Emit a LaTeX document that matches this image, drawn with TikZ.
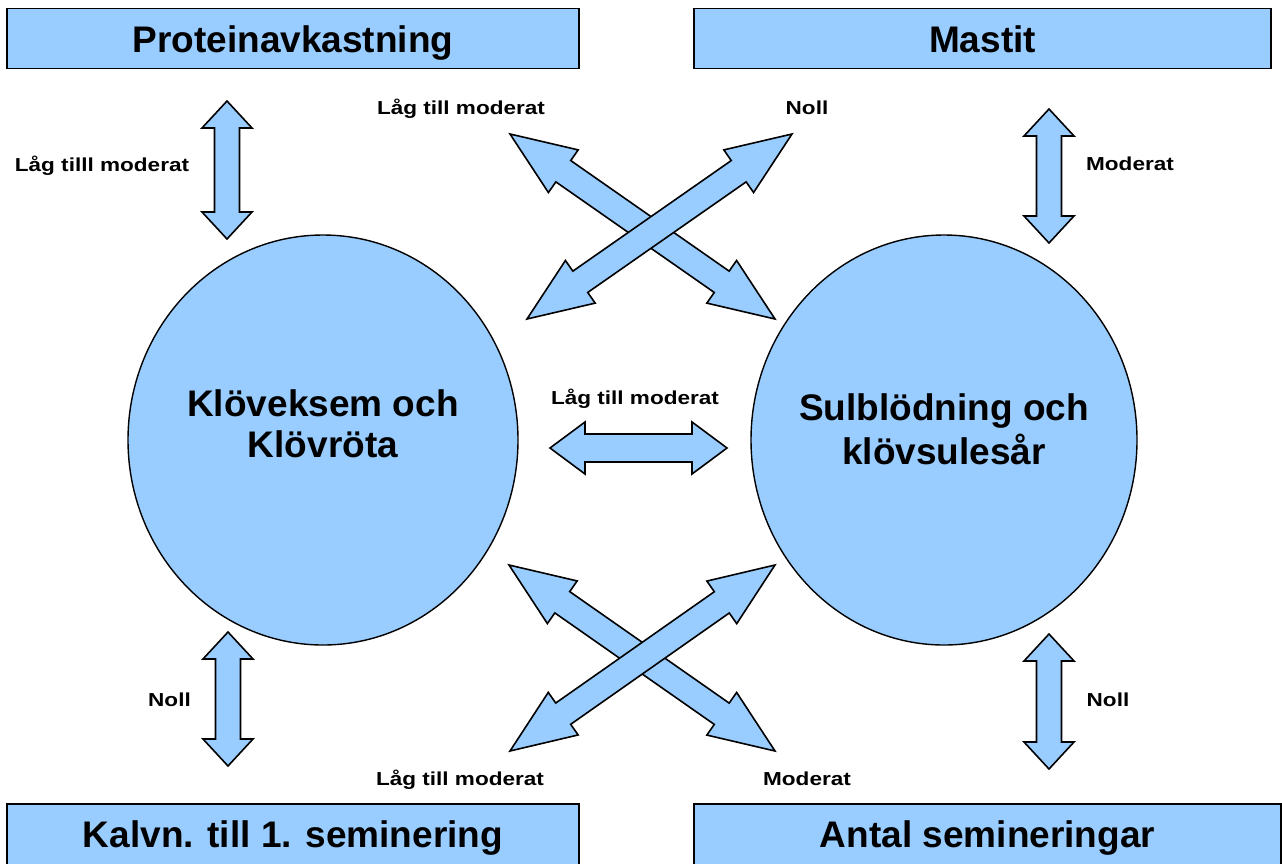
\documentclass[tikz,border=0pt]{standalone}
\usepackage{fontspec}
\setmainfont{Liberation Sans}
\newfontfamily\lblfont{Liberation Sans}[FakeStretch=1.2]
\usetikzlibrary{calc,shapes.geometric}
\definecolor{lblue}{RGB}{153,204,255}
\tikzset{
  boxnode/.style={draw=black, line width=1.6pt, fill=lblue, rectangle, inner sep=0pt,
    font=\fontsize{37}{40}\selectfont\bfseries},
  ovalnode/.style={draw=black, line width=1.4pt, fill=lblue, ellipse, inner sep=0pt},
  bigtext/.style={font=\fontsize{37}{42}\selectfont\bfseries, anchor=base, inner sep=0pt},
  lbl/.style={font=\lblfont\fontsize{18.8}{22}\selectfont\bfseries, anchor=base, inner sep=0pt},
  barrow/.style={draw=black, line width=1.6pt, fill=lblue, line join=miter},
}
\newcommand\blockarrow[5]{% #1,#2 ends; #3 half shaft; #4 half head; #5 head length
  \coordinate (#1-h) at ($(#1)!#5!(#2)$);
  \coordinate (#2-h) at ($(#2)!#5!(#1)$);
  \draw[barrow] (#1) -- ($(#1-h)!#4!-90:(#2)$) -- ($(#1-h)!#3!-90:(#2)$)
    -- ($(#2-h)!#3!90:(#1)$) -- ($(#2-h)!#4!90:(#1)$) -- (#2)
    -- ($(#2-h)!#4!-90:(#1)$) -- ($(#2-h)!#3!-90:(#1)$)
    -- ($(#1-h)!#3!90:(#2)$) -- ($(#1-h)!#4!90:(#2)$) -- cycle;
}
\begin{document}
\begin{tikzpicture}[x=1pt,y=-1pt]
\useasboundingbox (0,0) rectangle (1282,863);
\clip (0,0) rectangle (1282,863);
\fill[white] (0,0) rectangle (1282,863);

% boxes
\node[boxnode, minimum width=572pt, minimum height=60pt, text height=28.4pt, text depth=0pt] (prot) at (293,38.5) {Proteinavkastning};
\node[boxnode, minimum width=577pt, minimum height=60pt, text height=28.4pt, text depth=0pt] (mast) at (982.5,38.5) {Mastit};
\node[boxnode, minimum width=572pt, minimum height=66pt, text height=26pt, text depth=6pt] (kalv) at (293,837) {Kalvn. till 1. seminering};
\node[boxnode, minimum width=587pt, minimum height=66pt, text height=26pt, text depth=6pt] (antal) at (987.5,837) {Antal semineringar};

% circles
\node[ovalnode, minimum width=390pt, minimum height=410pt] (klov) at (323,440) {};
\node[ovalnode, minimum width=386pt, minimum height=410pt] (sul) at (944,440) {};
\node[bigtext] (k1) at (323,416) {Klöveksem och};
\node[bigtext] (k2) at (323,457) {Klövröta};
\node[bigtext] (s1) at (944,420) {Sulblödning och};
\node[bigtext] (s2) at (944,464) {klövsulesår};

% arrow end points
\coordinate (a1) at (227,101);  \coordinate (a2) at (227,239);
\coordinate (b1) at (1049,109); \coordinate (b2) at (1049,243);
\coordinate (c1) at (228,632);  \coordinate (c2) at (228,766);
\coordinate (d1) at (1049,634); \coordinate (d2) at (1049,769);
\coordinate (h1) at (550,448);  \coordinate (h2) at (727,448);
\coordinate (x1) at (510,134);  \coordinate (x2) at (775,319);
\coordinate (y1) at (527,319);  \coordinate (y2) at (792,134);
\coordinate (u1) at (509,565);  \coordinate (u2) at (775,751);
\coordinate (v1) at (510,751);  \coordinate (v2) at (775,565);

\blockarrow{a1}{a2}{12.5pt}{25pt}{27pt}
\blockarrow{b1}{b2}{12.5pt}{25pt}{27pt}
\blockarrow{c1}{c2}{12.5pt}{25pt}{27pt}
\blockarrow{d1}{d2}{12.5pt}{25pt}{27pt}
\blockarrow{h1}{h2}{14pt}{26pt}{35pt}
\blockarrow{x1}{x2}{13pt}{26pt}{65pt}
\blockarrow{y1}{y2}{13pt}{26pt}{65pt}
\blockarrow{u1}{u2}{13pt}{26pt}{65pt}
\blockarrow{v1}{v2}{13pt}{26pt}{65pt}

% labels
\node[lbl] (l1) at (102,171) {Låg tilll moderat};
\node[lbl] (l2) at (461,114) {Låg till moderat};
\node[lbl] (l3) at (807,114) {Noll};
\node[lbl] (l4) at (1130,170.5) {Moderat};
\node[lbl] (l5) at (635,404) {Låg till moderat};
\node[lbl] (l6) at (169.5,706.5) {Noll};
\node[lbl] (l7) at (1108,706.5) {Noll};
\node[lbl] (l8) at (460,785) {Låg till moderat};
\node[lbl] (l9) at (807,785) {Moderat};
\end{tikzpicture}
\end{document}
